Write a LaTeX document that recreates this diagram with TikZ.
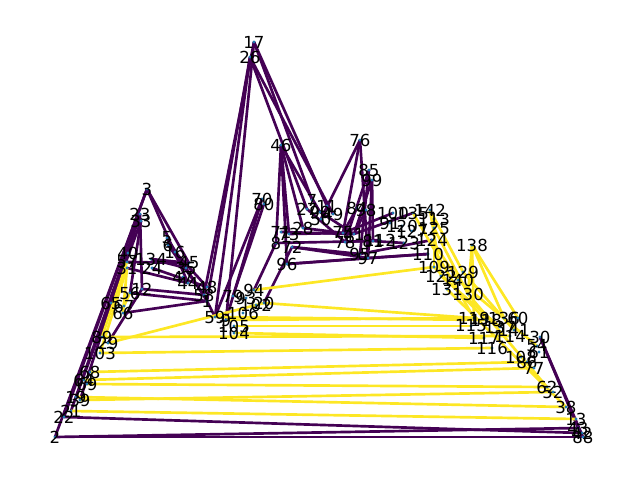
\documentclass[tikz,border=0pt]{standalone}
\usepackage{fontspec}
\setmainfont{DejaVu Sans}
\usepackage{tikz}

\definecolor{vpurple}{HTML}{440154}
\definecolor{vyellow}{HTML}{FDE725}
\definecolor{nodeblue}{HTML}{1F78B4}

\tikzset{
  lowedge/.style={draw=vpurple, line width=1.9pt},
  highedge/.style={draw=vyellow, line width=1.9pt},
  vertexlab/.style={inner sep=0pt, font=\fontsize{11.8}{13}\selectfont},
}

\begin{document}
\begin{tikzpicture}[x=0.025cm, y=-0.025cm]
    \useasboundingbox (0,0) rectangle (640,480);

    % --- Vertex positions (pixel grid) ---
    \foreach \l/\x/\y in {17/254/42, 26/250/57, 46/281/145, 76/360/140, 85/369/170, 99/372/180,
        3/147/189, 23/140/214, 33/141/221, 70/262/199, 80/264/204, 7/312/200, 27/307/209,
        11/327/206, 90/320/212, 49/333/214, 50/321/219, 28/303/228, 84/357/208, 98/366/210,
        71/281/232, 73/289/234, 8/276/243, 72/292/247, 96/287/264, 75/343/233, 41/354/234,
        78/345/242, 81/373/241, 95/360/254, 97/368/258, 100/393/213, 135/413/213, 142/430/210,
        113/434/219, 125/434/228, 91/390/223, 120/402/226, 127/412/231, 112/380/240,
        123/404/243, 124/432/240, 110/428/254, 138/472/245, 109/434/267, 122/441/276,
        129/463/272, 140/458/280, 131/447/289, 130/468/294}
        \coordinate (n\l) at (\x,\y);
    \foreach \l/\x/\y in {40/128/253, 57/127/262, 31/127/268, 134/151/259, 24/152/268,
        5/167/238, 6/168/245, 16/175/252, 45/189/263, 35/186/268, 47/183/277, 44/188/283,
        48/207/287, 58/204/295, 1/207/301, 12/142/289, 56/130/293, 65/111/303, 67/124/306,
        66/123/313, 79/233/296, 93/246/298, 94/254/290, 102/256/305, 20/264/303, 106/243/313,
        59/215/317, 9/226/320, 105/234/326, 104/234/333, 89/102/337, 29/108/343, 103/100/353,
        68/90/372, 64/84/380, 69/87/384, 19/76/397, 39/80/400, 21/71/411, 22/64/417, 2/55/437}
        \coordinate (n\l) at (\x,\y);
    \foreach \l/\x/\y in {119/474/318, 118/486/320, 136/504/318, 60/518/318, 115/471/326,
        137/500/327, 141/514/330, 117/484/338, 114/510/336, 116/492/348, 30/540/337,
        54/537/346, 61/539/352, 108/521/357, 86/527/362, 77/534/368, 62/547/387, 52/553/392,
        38/566/407, 13/576/419, 43/578/428, 42/582/433, 88/583/437}
        \coordinate (n\l) at (\x,\y);

    % --- Low-weight edges ---
    \foreach \a/\b in {17/58, 17/9, 26/59, 26/1, 17/7, 17/11, 26/27, 26/49,
        46/73, 46/28, 46/90, 46/96, 46/8, 70/59, 80/79, 70/9, 20/72, 94/8,
        76/50, 76/75, 76/97, 85/78, 85/95, 99/97, 99/81, 99/41, 84/75, 98/41,
        73/75, 71/41, 8/81, 72/97, 96/110, 28/75, 72/95, 96/97, 27/78, 90/41,
        75/100, 81/123, 41/135, 78/112, 95/124, 97/110,
        3/2, 3/22, 23/21, 33/19, 40/39, 3/45, 3/44, 23/40, 23/12, 33/56,
        5/16, 5/1, 6/58, 16/48, 57/45, 31/44, 134/45, 24/48, 134/35, 12/58,
        56/1, 66/1, 12/29, 40/65, 1/59,
        2/88, 2/43, 22/42, 30/88, 30/43}
        \draw[lowedge] (n\a) -- (n\b);

    % --- High-weight edges ---
    \foreach \a/\b in {57/89, 31/103, 31/66, 56/67, 29/20, 20/119, 59/118, 104/117,
        105/115, 9/119, 103/116, 89/114, 68/86, 64/77, 69/62, 19/38, 39/52, 21/13,
        138/130, 138/119, 138/136, 138/60, 142/129, 135/119, 113/109, 124/140,
        142/122, 125/130, 109/118, 122/137, 129/141, 140/54, 130/62, 131/38, 94/109}
        \draw[highedge] (n\a) -- (n\b);

    % --- Vertices and their labels ---
    \foreach \l in {17, 26, 46, 76, 85, 99, 3, 23, 33, 70, 80, 7, 27, 11, 90, 49, 50, 28, 84, 98,
        71, 73, 8, 72, 96, 75, 41, 78, 81, 95, 97, 100, 135, 142, 113, 125, 91, 120, 127, 112,
        123, 124, 110, 138, 109, 122, 129, 140, 131, 130, 40, 57, 31, 134, 24, 5, 6, 16, 45, 35,
        47, 44, 48, 58, 1, 12, 56, 65, 67, 66, 79, 93, 94, 102, 20, 106, 59, 9, 105, 104, 89,
        29, 103, 68, 64, 69, 19, 39, 21, 22, 2, 119, 118, 136, 60, 115, 137, 141, 117, 114,
        116, 30, 54, 61, 108, 86, 77, 62, 52, 38, 13, 43, 42, 88}
    {
        \fill[nodeblue] (n\l) circle (1.6);
        \node[vertexlab] (lab\l) at (n\l) {\l};
    }
\end{tikzpicture}
\end{document}
